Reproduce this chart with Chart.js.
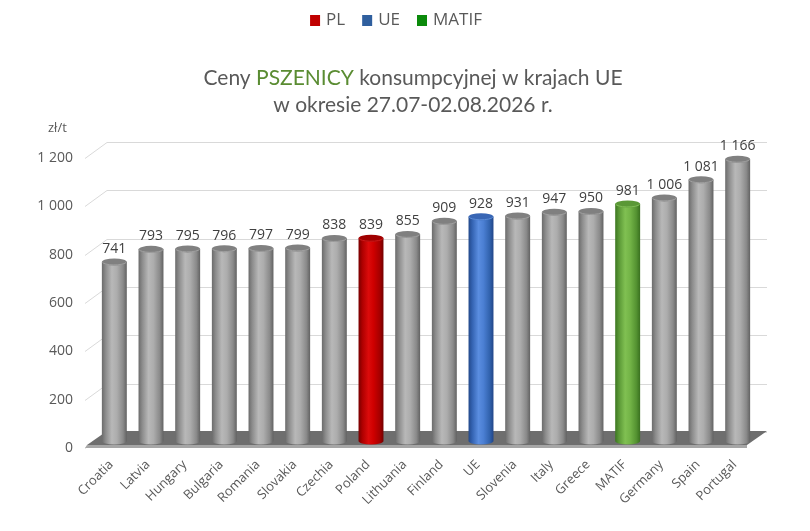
<!DOCTYPE html>
<html>
<head>
<meta charset="utf-8">
<script src="https://cdn.jsdelivr.net/npm/chart.js@4.4.1/dist/chart.umd.min.js"></script>
<style>
  html, body { margin: 0; padding: 0; background: #fff; }
  #wrap { width: 810px; height: 531px; }
</style>
</head>
<body>
<div id="wrap"><canvas id="wheatChart" width="810" height="531"></canvas></div>
<script>
const categories = ["Croatia", "Latvia", "Hungary", "Bulgaria", "Romania", "Slovakia", "Czechia", "Poland",
  "Lithuania", "Finland", "UE", "Slovenia", "Italy", "Greece", "MATIF", "Germany", "Spain", "Portugal"];
const prices = [741, 793, 795, 796, 797, 799, 838, 839, 855, 909, 928, 931, 947, 950, 981, 1006, 1081, 1166];
const yTicks = [0, 200, 400, 600, 800, 1000, 1200];
const legendItems = ["PL", "UE", "MATIF"];

// colour sets for the cylinders
const palette = {
  gray:  { stops: ["#6b6b6b", "#8c8c8c", "#b8b8b8", "#adadad", "#8a8a8a", "#626262"], top: "#808080", rim: "#a0a0a0" },
  red:   { stops: ["#780000", "#ad0000", "#dc0b0b", "#cf0000", "#a60000", "#730000"], top: "#a00000", rim: "#cc1a1a" },
  blue:  { stops: ["#23498a", "#3463b2", "#5a8de0", "#4b7fd3", "#3162ad", "#214588"], top: "#3866b5", rim: "#5a8bd6" },
  green: { stops: ["#3c7620", "#5a9836", "#80c052", "#73b447", "#549231", "#39701f"], top: "#5a9836", rim: "#7fbc55" }
};
const legendColors = { PL: "#c00000", UE: "#2f5f9e", MATIF: "#0b8a0b" };

function barStyle(i) {
  const name = categories[i];
  if (name === "Poland") return palette.red;
  if (name === "UE") return palette.blue;
  if (name === "MATIF") return palette.green;
  return palette.gray;
}

const BAR_PCT = 0.68;
const ELL = 3.5;

function fmt(v) {
  return String(v).replace(/\B(?=(\d{3})+(?!\d))/g, " ");
}

function barGradient(c, i) {
  const chart = c.chart;
  const xs = chart.scales.x;
  const st = barStyle(i);
  if (!xs || !chart.chartArea) return st.stops[2];
  const cx = xs.getPixelForValue(i);
  const w = xs.width / categories.length * BAR_PCT;
  const g = chart.ctx.createLinearGradient(cx - w / 2, 0, cx + w / 2, 0);
  const pos = [0, 0.15, 0.4, 0.6, 0.85, 1];
  st.stops.forEach((col, k) => g.addColorStop(pos[k], col));
  return g;
}

const decor = {
  id: "decor",
  beforeDraw(chart) {
    const ctx = chart.ctx;
    ctx.save();
    // legend
    ctx.font = "17px 'Open Sans', sans-serif";
    ctx.textBaseline = "middle";
    ctx.textAlign = "left";
    const widths = legendItems.map(t => ctx.measureText(t).width);
    let total = 0;
    widths.forEach(w => total += 16 + w);
    total += 17 * (legendItems.length - 1);
    let x = 396 - total / 2;
    legendItems.forEach((t, k) => {
      ctx.fillStyle = legendColors[t];
      ctx.fillRect(x, 15, 10, 11);
      ctx.fillStyle = "#595959";
      ctx.fillText(t, x + 16, 20);
      x += 16 + widths[k] + 17;
    });
    // title
    ctx.font = "21px Lato, sans-serif";
    const parts = [["Ceny ", "#595959"], ["PSZENICY", "#5a8c32"], [" konsumpcyjnej w krajach UE", "#595959"]];
    let tw = 0;
    parts.forEach(p => tw += ctx.measureText(p[0]).width);
    let tx = 413 - tw / 2;
    parts.forEach(p => {
      ctx.fillStyle = p[1];
      ctx.fillText(p[0], tx, 78);
      tx += ctx.measureText(p[0]).width;
    });
    ctx.fillStyle = "#595959";
    ctx.textAlign = "center";
    ctx.fillText("w okresie 27.07-02.08.2026 r.", 413, 105);
    // unit
    ctx.font = "13px 'Open Sans', sans-serif";
    ctx.textAlign = "left";
    ctx.fillText("zł/t", 48, 128);
    ctx.restore();
  },
  beforeDatasetsDraw(chart) {
    const ctx = chart.ctx;
    const ys = chart.scales.y;
    const a = chart.chartArea;
    ctx.save();
    ctx.strokeStyle = "#d9d9d9";
    ctx.lineWidth = 1;
    yTicks.forEach(v => {
      const y = Math.round(ys.getPixelForValue(v)) + 0.5;
      ctx.beginPath();
      ctx.moveTo(a.left - 11, y + 7);
      ctx.lineTo(a.left + 11, y - 9);
      ctx.lineTo(a.right + 11, y - 9);
      ctx.stroke();
    });
    // floor
    const z = ys.getPixelForValue(0);
    ctx.fillStyle = "#6e6e6e";
    ctx.beginPath();
    ctx.moveTo(a.left + 11, z - 10);
    ctx.lineTo(a.right + 11, z - 10);
    ctx.lineTo(a.right - 9, z + 4);
    ctx.lineTo(a.left - 9, z + 4);
    ctx.closePath();
    ctx.fill();
    ctx.fillStyle = "#a6a6a6";
    ctx.beginPath();
    ctx.moveTo(a.left - 9, z + 4);
    ctx.lineTo(a.right - 9, z + 4);
    ctx.lineTo(a.right - 9, z + 7);
    ctx.lineTo(a.left - 11, z + 7);
    ctx.closePath();
    ctx.fill();
    ctx.restore();
  },
  afterDatasetsDraw(chart) {
    const ctx = chart.ctx;
    const meta = chart.getDatasetMeta(0);
    ctx.save();
    meta.data.forEach((el, i) => {
      const st = barStyle(i);
      const w = el.width;
      // rounded bottom
      ctx.fillStyle = el.options.backgroundColor;
      ctx.beginPath();
      ctx.ellipse(el.x, el.base, w / 2, ELL, 0, 0, Math.PI);
      ctx.fill();
      // top cap
      ctx.beginPath();
      ctx.ellipse(el.x, el.y, w / 2, ELL, 0, 0, Math.PI * 2);
      ctx.fillStyle = st.top;
      ctx.fill();
      ctx.beginPath();
      ctx.ellipse(el.x, el.y, w / 2 - 0.5, ELL - 0.5, 0, 0.1, Math.PI - 0.1);
      ctx.strokeStyle = st.rim;
      ctx.lineWidth = 1;
      ctx.stroke();
      // value label
      ctx.fillStyle = "#404040";
      ctx.font = "14px 'Open Sans', sans-serif";
      ctx.textAlign = "center";
      ctx.textBaseline = "bottom";
      ctx.fillText(fmt(prices[i]), el.x, el.y - 6);
    });
    ctx.restore();
  }
};

const ctx = document.getElementById("wheatChart").getContext("2d");
const chart = new Chart(ctx, {
  type: "bar",
  data: {
    labels: categories,
    datasets: [{
      data: prices,
      backgroundColor: c => barGradient(c, c.dataIndex),
      borderWidth: 0,
      barPercentage: BAR_PCT,
      categoryPercentage: 1
    }]
  },
  options: {
    responsive: false,
    animation: false,
    layout: { padding: { top: 151, right: 54, bottom: 0, left: 0 } },
    plugins: {
      legend: { display: false },
      title: { display: false },
      tooltip: { enabled: false }
    },
    scales: {
      x: {
        grid: { display: false },
        border: { display: false },
        ticks: {
          minRotation: 45,
          maxRotation: 45,
          padding: 8,
          labelOffset: -3,
          color: "#595959",
          font: { family: "'Open Sans', sans-serif", size: 13 }
        },
        afterFit(scale) { scale.height = 90; }
      },
      y: {
        min: 0,
        max: 1200,
        afterBuildTicks(scale) { scale.ticks = yTicks.map(v => ({ value: v })); },
        grid: { display: false },
        border: { display: false },
        ticks: {
          padding: 15,
          labelOffset: 7,
          color: "#595959",
          font: { family: "'Open Sans', sans-serif", size: 14 },
          callback: v => fmt(v)
        },
        afterFit(scale) { scale.width = 96; }
      }
    }
  },
  plugins: [decor]
});
</script>
</body>
</html>
